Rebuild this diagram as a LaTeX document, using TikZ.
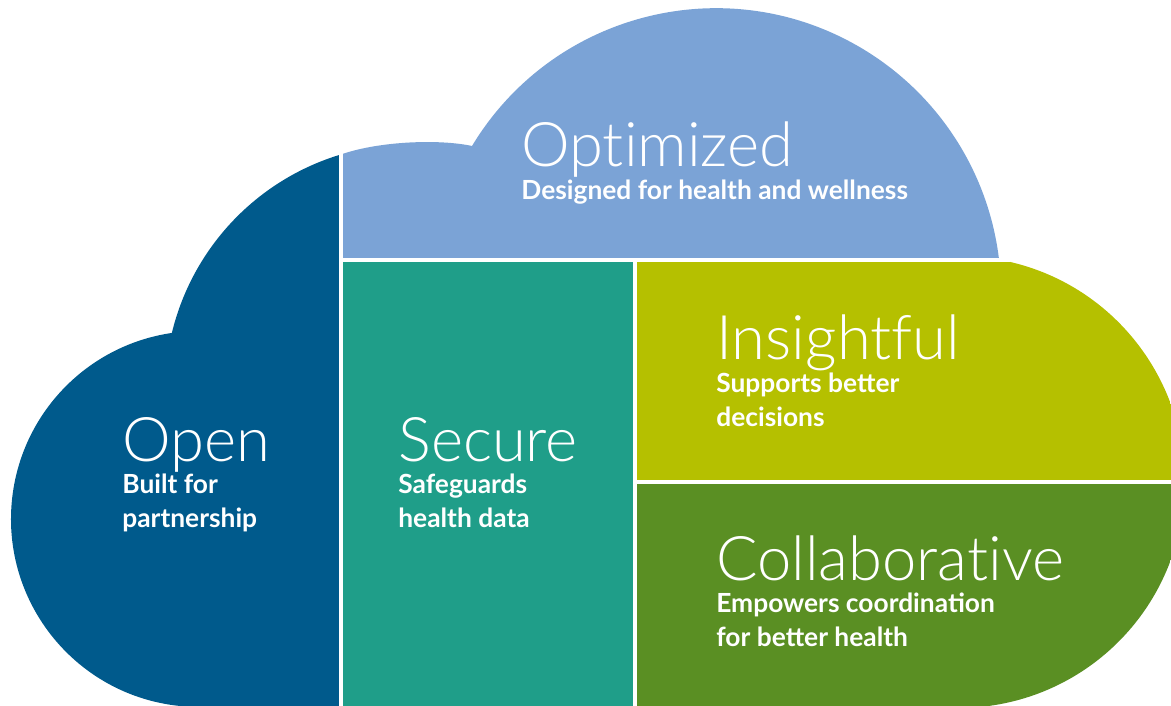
\documentclass[tikz,border=0pt]{standalone}
\usepackage{fontspec}
\setmainfont{Lato}
\newfontfamily\headfont{Lato Light}[Ligatures=NoCommon]
\usepackage{tikz}
\usetikzlibrary{positioning}
\definecolor{openblue}{RGB}{0,90,140}
\definecolor{optblue}{RGB}{123,163,214}
\definecolor{secteal}{RGB}{31,158,137}
\definecolor{insyellow}{RGB}{181,192,0}
\definecolor{colgreen}{RGB}{90,143,35}

\begin{document}
\begin{tikzpicture}[x=0.02cm, y=-0.02cm,
    heading/.style={anchor=base west, inner sep=0pt, text=white, font=\headfont\fontsize{35}{38}\selectfont},
    subtitle/.style={anchor=base west, inner sep=0pt, text=white, align=left, font=\bfseries\fontsize{15}{19}\selectfont},
    gap/.style={white, line width=0.08cm}]
	\useasboundingbox (0,0) rectangle (1171,706);
	\begin{scope}
		\clip (180,706) arc[start angle=95.8, end angle=261.7, radius=188]
			arc[start angle=193.6, end angle=253.5, radius=247]
			.. controls (380,141) and (440,139) .. (472,146)
			arc[start angle=211.1, end angle=353, radius=285]
			-- (1001,260) arc[start angle=-79.2, end angle=82.4, radius=226]
			-- cycle;
		\fill[openblue] (0,0) rectangle (341,706);
		\fill[optblue] (341,0) rectangle (1171,260);
		\fill[secteal] (341,260) rectangle (635,706);
		\fill[insyellow] (635,260) rectangle (1171,482);
		\fill[colgreen] (635,482) rectangle (1171,706);
	\end{scope}
	\draw[gap] (341,140) -- (341,706);
	\draw[gap] (341,260) -- (1010,260);
	\draw[gap] (635,260) -- (635,706);
	\draw[gap] (635,482) -- (1171,482);
	\node[heading] (optimized) at (521,167) {Optimized};
	\node[subtitle] (optimized sub) at (521,200) {Designed for health and wellness};
	\node[heading] (open) at (122,461) {Open};
	\node[subtitle] (open sub) at (122,527) {Built for\\partnership};
	\node[heading] (secure) at (398,461) {Secure};
	\node[subtitle] (secure sub) at (398,527) {Safeguards\\health data};
	\node[heading] (insightful) at (716,359) {Insightful};
	\node[subtitle] (insightful sub) at (716,426) {Supports better\\decisions};
	\node[heading] (collaborative) at (716,580) {Collaborative};
	\node[subtitle] (collaborative sub) at (716,646) {Empowers coordination\\for better health};
\end{tikzpicture}
\end{document}
